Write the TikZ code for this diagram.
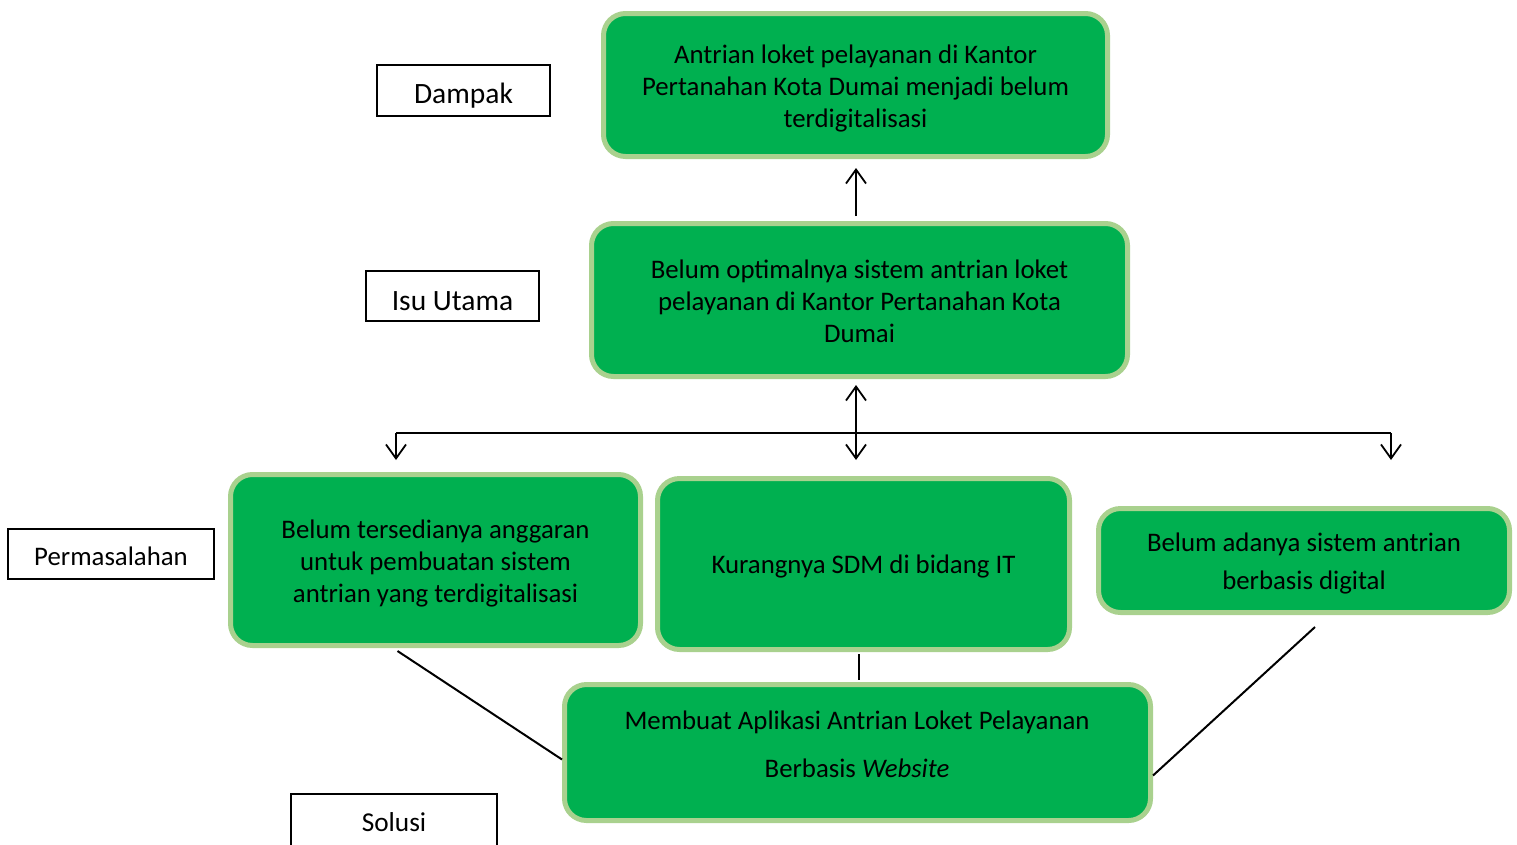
\documentclass[tikz,border=0pt]{standalone}
\usepackage{fontspec}
\setmainfont{Carlito}
\usetikzlibrary{arrows.meta,calc}
\definecolor{gfill}{HTML}{00B050}
\definecolor{gline}{HTML}{A9D18E}
\tikzset{
  gbox/.style={draw=gline, line width=5pt, fill=gfill, rounded corners=22pt, align=center, inner sep=0pt, font=\fontsize{26.8}{32}\selectfont, text=black},
  lbox/.style={draw=black, line width=2pt, fill=white, align=center, inner sep=0pt, font=\fontsize{26.8}{30}\selectfont},
  conn/.style={line width=2pt},
  tip/.tip={Straight Barb[length=14pt,width=20pt,line width=1.8pt]},
}
\begin{document}
\begin{tikzpicture}[x=1pt,y=-1pt]
\useasboundingbox (0,0) rectangle (1517,844);
% green boxes
\node[gbox, minimum width=504, minimum height=143] (top) at (855.5,85) {};
\node[gbox, minimum width=536, minimum height=153] (mid) at (859.5,300) {};
\node[gbox, minimum width=410, minimum height=171] (left) at (435.5,560) {};
\node[gbox, minimum width=412, minimum height=171] (ctr) at (863.5,564) {};
\node[gbox, minimum width=411, minimum height=104] (right) at (1304,560.5) {};
\node[gbox, minimum width=586, minimum height=136] (bot) at (857.5,752.5) {};
\node[gbox, draw=none, fill=none] (toptxt) at (855.5,88) {Antrian loket pelayanan di Kantor\\Pertanahan Kota Dumai menjadi belum\\terdigitalisasi};
\node[gbox, draw=none, fill=none] (midtxt) at (859.5,301) {Belum optimalnya sistem antrian loket\\pelayanan di Kantor Pertanahan Kota\\Dumai};
\node[gbox, draw=none, fill=none] (lefttxt) at (435.5,563) {Belum tersedianya anggaran\\untuk pembuatan sistem\\antrian yang terdigitalisasi};
\node[gbox, draw=none, fill=none] (ctrtxt) at (863.5,566.5) {Kurangnya SDM di bidang IT};
\node[gbox, draw=none, fill=none] (righttxt) at (1304,563.5) {Belum adanya sistem antrian\\[6pt]berbasis digital};
\node[gbox, draw=none, fill=none] (bottxt) at (857,744.5) {Membuat Aplikasi Antrian Loket Pelayanan\\[16pt]Berbasis \textit{Website}};
% label boxes
\node[lbox, minimum width=173, minimum height=51] (dampak) at (463.5,90.5) {};
\node[lbox, minimum width=173, minimum height=50] (isu) at (452.5,296) {};
\node[lbox, minimum width=206, minimum height=50] (perm) at (111,554) {};
\node[lbox, minimum width=206, minimum height=80] (sol) at (394,834) {};
\node[font=\fontsize{29.5}{32}\selectfont] (damtxt) at (463.5,96) {Dampak};
\node[font=\fontsize{29.5}{32}\selectfont] (isutxt) at (452.5,301.5) {Isu Utama};
\node[font=\fontsize{26.8}{30}\selectfont] (permtxt) at (111,556.5) {Permasalahan};
\node[font=\fontsize{27.3}{30}\selectfont] (soltxt) at (394,822) {Solusi};
% connectors
\coordinate (hub) at (856,433);
\coordinate (lt) at (396,433);
\coordinate (rt) at (1391,433);
\coordinate (hubd) at (856,460);
\coordinate (ltd) at (396,460);
\coordinate (rtd) at (1391,460);
\draw[conn,-{tip}] ($(mid.north)+(-3.5,-5)$) -- ($(top.south)+(0.5,9)$);
\draw[conn,-{tip}] (hub) -- ($(mid.south)+(-3.5,6)$);
\draw[conn,-{tip}] (hub) -- (hubd);
\draw[conn] (lt) -- (rt);
\draw[conn,-{tip}] (lt) -- (ltd);
\draw[conn,-{tip}] (rt) -- (rtd);
\draw[conn] ($(left.south)+(-38,3)$) -- ($(bot.west)+(0,7)$);
\draw[conn] ($(ctr.south)+(-4.5,2)$) -- ($(bot.north)+(1.5,-2)$);
\draw[conn] ($(right.south)+(11,12)$) -- ($(bot.east)+(0,23)$);
\end{tikzpicture}
\end{document}
